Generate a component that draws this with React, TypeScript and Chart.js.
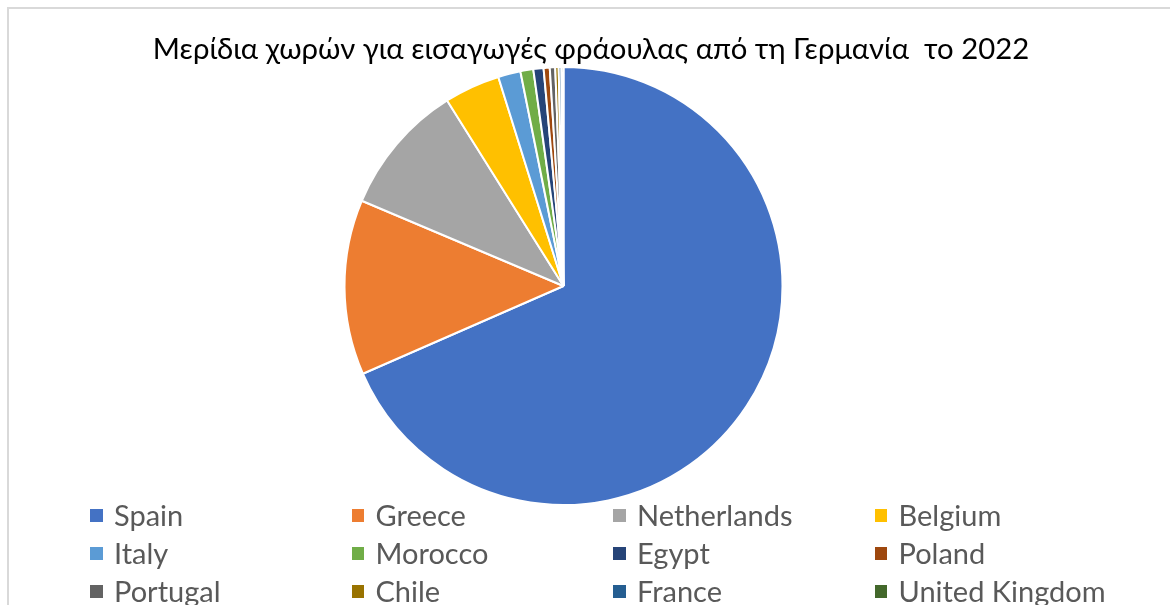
import React, { useEffect, useRef } from "react";
import { Chart, registerables } from "chart.js";

Chart.register(...registerables);

const TITLE = "Μερίδια χωρών για εισαγωγές φράουλας από τη Γερμανία  το 2022";
const countries = [
  "Spain", "Greece", "Netherlands", "Belgium",
  "Italy", "Morocco", "Egypt", "Poland",
  "Portugal", "Chile", "France", "United Kingdom",
];
const shares = [68.3, 12.9, 9.7, 4.1, 1.65, 0.95, 0.75, 0.45, 0.4, 0.25, 0.2, 0.15];
const colors = [
  "#4472C4", "#ED7D31", "#A5A5A5", "#FFC000",
  "#5B9BD5", "#70AD47", "#264478", "#9E480E",
  "#636363", "#997300", "#255E91", "#43682B",
];

const FONT = "Lato, 'Noto Sans', sans-serif";
const CANVAS_W = 1161;
const CANVAS_H = 596;

export default function App() {
  const ref = useRef<HTMLCanvasElement | null>(null);

  useEffect(() => {
    if (!ref.current) return;
    const chart = new Chart(ref.current, {
      type: "pie",
      data: {
        labels: countries,
        datasets: [
          {
            data: shares,
            backgroundColor: colors,
            borderColor: "#ffffff",
            borderWidth: 2,
          },
        ],
      },
      options: {
        responsive: false,
        animation: false,
        events: [],
        radius: 219,
        layout: { padding: { left: 0, right: 52, top: 0, bottom: 42 } },
        plugins: {
          legend: { display: false },
          title: { display: false },
          tooltip: { enabled: false },
        },
      },
    });
    return () => chart.destroy();
  }, []);

  const colX = (c: number) => 90 + c * 261.5 - 9;
  const baselines = [525.5, 563.5, 601.5];
  const TF = 29.3;
  const F = 29;

  return (
    <div
      style={{
        position: "absolute",
        left: 7,
        top: 7,
        width: 1163,
        height: 598,
        overflow: "hidden",
        boxSizing: "border-box",
        borderTop: "2px solid #d9d9d9",
        borderLeft: "2px solid #d9d9d9",
        background: "#fff",
      }}
    >
      <canvas
        ref={ref}
        width={CANVAS_W}
        height={CANVAS_H}
        style={{ position: "absolute", left: 0, top: 0, width: CANVAS_W, height: CANVAS_H }}
      />
      <div
        style={{
          position: "absolute",
          left: 0,
          top: 58.5 - 0.887 * TF - 9,
          width: 1164,
          textAlign: "center",
          fontFamily: FONT,
          fontSize: TF,
          lineHeight: `${TF}px`,
          whiteSpace: "pre",
          color: "#000",
        }}
      >
        {TITLE}
      </div>
      {countries.map((name, i) => {
        const c = i % 4;
        const r = Math.floor(i / 4);
        const base = baselines[r];
        return (
          <React.Fragment key={name}>
            <span
              style={{
                position: "absolute",
                left: colX(c),
                top: base - 16.3 - 9,
                width: 12.5,
                height: 12.5,
                background: colors[i],
              }}
            />
            <span
              style={{
                position: "absolute",
                left: colX(c) + 24,
                top: base - 0.887 * F - 9,
                fontFamily: FONT,
                fontSize: F,
                lineHeight: `${F}px`,
                whiteSpace: "pre",
                color: "#595959",
              }}
            >
              {name}
            </span>
          </React.Fragment>
        );
      })}
    </div>
  );
}
